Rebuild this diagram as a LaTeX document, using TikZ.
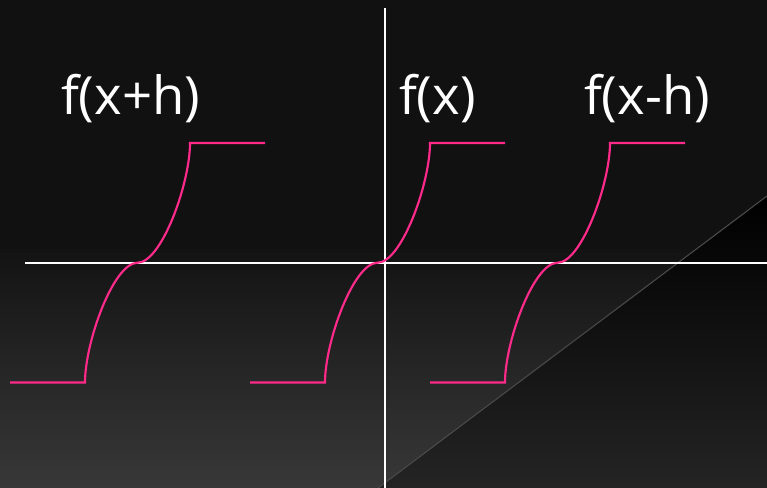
\documentclass[tikz,border=0pt]{standalone}
\usepackage{fontspec}
\setmainfont{Open Sans}
\definecolor{bgtop}{HTML}{111111}
\definecolor{bgmid}{HTML}{131313}
\definecolor{bgbot}{HTML}{383838}
\definecolor{tribot}{HTML}{242424}
\definecolor{trimid}{HTML}{0A0A0A}
\definecolor{curvepink}{HTML}{FF2A8A}
\definecolor{diaggray}{HTML}{4A4A4A}
\begin{document}
\begin{tikzpicture}[x=0.75pt,y=-0.75pt,
  axisline/.style={draw=white,line width=1.5pt},
  stepcurve/.style={draw=curvepink,line width=1.6pt,line join=miter},
  diagline/.style={draw=diaggray,line width=0.8pt},
  label/.style={text=white,font=\fontsize{39.5}{41}\selectfont,anchor=base west,inner sep=0pt,outer sep=0pt}]
\useasboundingbox (0,0) rectangle (767,488);
% background
\fill[bgtop] (0,0) rectangle (767,250);
\shade[top color=bgmid,bottom color=bgbot] (0,249.5) rectangle (767,488);
\shade[top color=black,middle color=trimid,bottom color=tribot] (378,488) -- (767,196) -- (767,488) -- cycle;
\coordinate (dA) at (378,488);
\coordinate (dB) at (767,196);
\draw[diagline] (dA) -- (dB);
% axes
\coordinate (xl) at (25,263);
\coordinate (xr) at (767,263);
\coordinate (yt) at (385,8);
\coordinate (yb) at (385,488);
\draw[axisline] (xl) -- (xr);
\draw[axisline] (yt) -- (yb);
% curves
\foreach \cx/\nm in {137.5/a,377.5/b,557.5/c}{
  \coordinate (\nm s) at (\cx-127.5,382.5);
  \coordinate (\nm l) at (\cx-52.5,382.5);
  \coordinate (\nm m) at (\cx,262.75);
  \coordinate (\nm u) at (\cx+52.5,143);
  \coordinate (\nm e) at (\cx+127.5,143);
  \draw[stepcurve] (\nm s) -- (\nm l)
    .. controls (\cx-52.5,342) and (\cx-24,262.75) .. (\nm m)
    .. controls (\cx+24,262.75) and (\cx+52.5,183.5) .. (\nm u)
    -- (\nm e);
}
% labels
\node[label] (lplus) at (61,114.5) {f(x+h)};
\node[label] (lzero) at (399,114.5) {f(x)};
\node[label] (lminus) at (584,114.5) {f(x-h)};
\end{tikzpicture}
\end{document}
